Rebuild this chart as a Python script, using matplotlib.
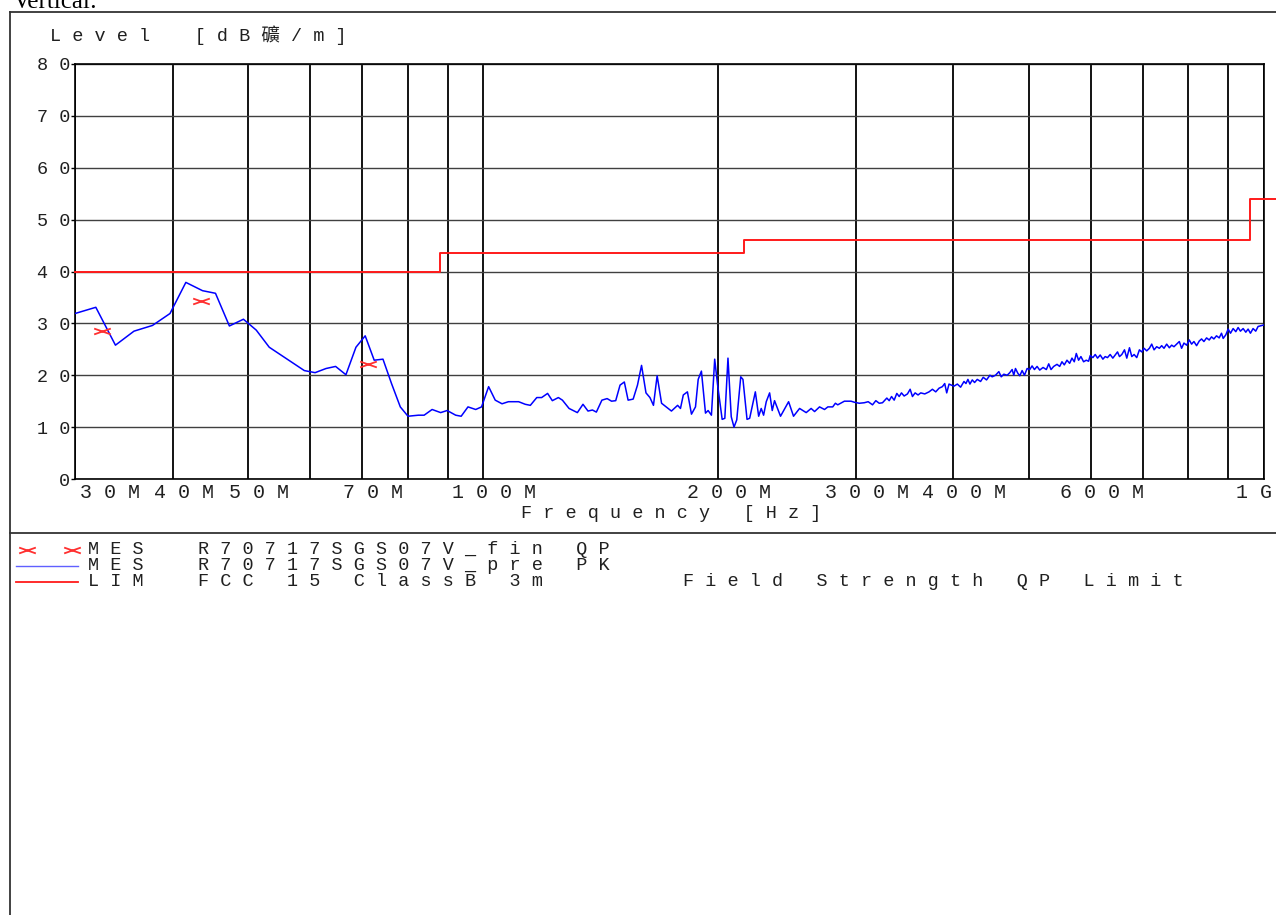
import matplotlib
matplotlib.use('Agg')
import matplotlib.pyplot as plt
from matplotlib.lines import Line2D
from matplotlib.path import Path
from matplotlib.transforms import ScaledTranslation

plt.rcParams['font.family'] = ['Liberation Mono', 'Noto Sans CJK TC']

# Peak pre-scan (MHz, dBuV/m)
pk_freq = [30.0, 31.9, 33.8, 35.7, 37.7, 39.7, 41.6, 43.7, 45.4, 47.3, 49.3, 51.2, 53.2,
           59.0, 60.9, 62.9, 64.7, 66.7, 68.7, 70.6, 72.5, 74.4, 76.3, 78.3, 80.1, 82.6,
           84.0, 86.0, 88.2, 89.9, 92.2, 93.7, 95.6, 97.8, 99.5, 101.6, 103.6, 105.7, 107.7,
           111.0, 113.2, 114.9, 117.1, 118.8, 120.9, 122.6, 124.8, 126.3, 128.8, 132.0,
           134.2, 136.2, 138.0, 139.6, 141.9, 144.1, 146.0, 147.8, 149.7, 151.6, 153.3,
           155.6, 157.6, 159.5, 161.6, 163.5, 165.2, 167.0, 169.2, 174.2, 177.4,
           178.9, 180.4, 182.6, 184.8, 187.0, 188.5, 190.3, 192.6, 194.1, 196.0, 197.9,
           199.5, 202.3, 203.9, 205.8, 207.8, 209.5, 211.2, 213.7, 215.1, 217.7, 219.4,
           223.1, 225.3, 227.0, 228.6, 230.4, 232.7, 234.5, 236.1, 240.3, 246.1, 249.7,
           254.2, 259.2, 263.0, 265.7, 269.6, 273.6, 276.3, 280.3, 282.5, 284.5, 290.1,
           295.8, 298.7, 303.1, 307.6, 311.2, 315.2, 318.3, 321.5, 324.6, 328.8, 331.1,
           333.4, 336.0, 338.6, 341.0, 343.3, 346.0, 349.4, 352.2, 354.6, 357.4, 360.5,
           363.4, 367.7, 372.4, 376.1, 379.8, 383.5, 387.3, 390.0, 392.3, 395.0, 397.7,
           400.8, 404.8, 408.7, 412.8, 415.2, 417.6, 420.1, 423.0, 425.9, 429.3, 433.5,
           436.9, 441.2, 445.6, 448.6, 453.0, 457.5, 460.7, 464.3, 468.9, 472.5, 475.8,
           478.1, 480.5, 483.8, 486.6, 490.0, 493.4, 497.3, 501.2, 504.6, 508.1, 512.1,
           516.1, 521.2, 526.3, 530.0, 533.6, 537.8,
           543.1, 547.4, 551.1, 554.9, 559.3, 563.7, 567.6, 571.5, 574.9, 578.8, 582.8,
           587.4, 592.0, 596.1, 599.0, 603.7, 607.9, 612.1, 616.9, 621.8, 626.0, 630.3,
           635.3, 640.3, 644.7, 649.2, 653.0, 657.5, 662.7, 667.2, 672.5, 677.1, 681.8,
           687.1, 692.5, 697.3, 702.1, 707.6, 713.2, 718.1, 723.1, 728.7, 734.5, 739.5,
           744.6, 750.5, 756.4, 761.6, 766.8, 772.9, 779.0, 784.3, 789.7, 796.0, 802.2,
           807.7, 813.3, 819.7, 826.2, 831.8, 837.6, 844.2, 850.8, 856.7, 862.6, 869.3,
           876.2, 882.2, 886.6, 893.5, 899.7, 905.9, 913.0, 920.2, 926.5, 932.9, 940.3,
           947.7, 954.2, 960.8, 968.3, 975.9, 982.7, 1000.0]
pk_level = [31.9, 33.1, 25.8, 28.5, 29.6, 31.9, 37.9, 36.3, 35.8, 29.5, 30.8, 28.7, 25.4,
            20.9, 20.5, 21.3, 21.7, 20.1, 25.4, 27.6, 22.9, 23.1, 18.4, 13.9, 12.1, 12.3,
            12.3, 13.4, 12.8, 13.2, 12.3, 12.1, 13.9, 13.4, 13.9, 17.8, 15.2, 14.5, 14.9,
            14.9, 14.4, 14.2, 15.7, 15.7, 16.5, 15.1, 15.7, 15.2, 13.6, 12.8,
            14.4, 13.1, 13.3, 12.9, 15.2, 15.5, 15.0, 15.1, 18.1, 18.7, 15.2,
            15.4, 18.1, 21.9, 16.6, 15.7, 14.2, 19.9, 14.6, 13.1, 14.2,
            13.6, 16.2, 16.8, 12.5, 13.9, 19.2, 20.8, 12.7, 13.2, 12.3, 23.1,
            18.4, 11.5, 11.7, 23.3, 12.0, 10.0, 11.4, 19.7, 19.2, 11.5, 11.7,
            16.8, 12.1, 13.6, 12.3, 14.9, 16.6, 13.2, 15.1, 12.1, 14.9, 12.1,
            13.6, 12.8, 13.6, 13.0, 13.9, 13.4, 13.9, 13.9, 14.6, 14.3, 15.0,
            15.0, 14.8, 14.6, 14.7, 14.9, 14.3, 15.1, 14.6, 14.7, 15.6, 15.1,
            15.9, 15.2, 16.5, 15.9, 16.6, 16.0, 16.4, 17.3, 15.9, 16.6, 16.2,
            16.6, 16.4, 16.8, 17.3, 16.8, 17.5, 17.8, 18.4, 16.6, 18.3, 18.1,
            17.9, 18.3, 17.7, 18.8, 18.4, 19.2, 18.3, 19.1, 18.6, 19.2, 18.8,
            19.6, 19.1, 20.0, 19.7, 20.0, 20.7, 19.7, 20.2, 20.0, 20.5, 21.1,
            20.0, 21.3, 20.4, 19.9, 20.9, 20.0, 21.3, 21.1, 21.8, 21.1, 21.7,
            21.0, 21.5, 21.1, 22.2, 21.1, 21.7,
            22.1, 21.7, 22.6, 22.0, 22.9, 22.3, 23.3, 22.6, 24.2, 22.9, 23.6,
            22.6, 22.9, 22.7, 23.8, 23.4, 24.0, 23.3, 23.9, 23.1, 23.6, 23.4,
            24.0, 23.3, 23.9, 24.5, 23.6, 24.0, 24.9, 23.3, 25.3, 23.6, 24.0,
            23.4, 24.9, 24.5, 25.2, 24.7, 25.2, 26.0, 24.9, 25.5, 25.2, 25.7,
            25.2, 26.0, 25.3, 25.8, 25.5, 26.0, 26.5, 25.2, 26.2, 25.8, 26.8,
            26.0, 26.5, 25.7, 26.6, 27.0, 26.5, 27.2, 26.8, 27.4, 27.0, 27.6,
            27.2, 28.1, 27.1, 27.8, 28.9, 28.1, 29.0, 28.4, 29.2, 28.5, 29.0,
            28.3, 28.9, 28.1, 29.0, 28.5, 29.4, 29.7]

# Final QP measurements
qp_freq = [32.5, 43.5, 71.1]
qp_level = [28.6, 34.4, 22.1]

# FCC 15 Class B 3 m limit
lim_freq = [30, 88, 216, 960, 1040]
lim_level = [40, 43.5, 46, 54, 54]

xticks = [30, 40, 50, 60, 70, 80, 90, 100, 200, 300, 400, 500, 600, 700, 800, 900, 1000]
xlabels = {30: '30M', 40: '40M', 50: '50M', 70: '70M', 100: '100M', 200: '200M',
           300: '300M', 400: '400M', 600: '600M', 1000: '1G'}
label_shift = {30: 35, 1000: -10}


def spaced(s):
    return ' '.join(s)


W, H = 1276, 915
txt = '#202020'
fig = plt.figure(figsize=(W / 100, H / 100), dpi=100)
ax = fig.add_axes([75 / W, 1 - 479 / H, (1264 - 75) / W, (479 - 64) / H])

xmark = Path([(-1, -0.35), (1, 0.35), (-1, 0.35), (1, -0.35)],
             [Path.MOVETO, Path.LINETO, Path.MOVETO, Path.LINETO])

ax.plot(pk_freq, pk_level, color='#0000ff', lw=1.1, zorder=3)
ax.step(lim_freq, lim_level, where='post', color='#ff1a1a', lw=1.4, zorder=3, clip_on=False)
ax.plot(qp_freq, qp_level, ls='none', marker=xmark, ms=12, mec='#ff3030', mew=1.3, zorder=4)

ax.set_xscale('log')
ax.set_xlim(30, 1000)
ax.set_ylim(0, 80)
ax.set_xticks(xticks)
ax.set_xticklabels([])
ax.xaxis.set_minor_locator(matplotlib.ticker.NullLocator())
ax.set_yticks(range(0, 81, 10))
ax.set_yticklabels([spaced(str(v)) for v in range(0, 81, 10)], fontsize=13.3, color=txt)
ax.tick_params(axis='x', length=0)
ax.tick_params(axis='y', length=3, width=1, pad=0.5, color='black')
ax.grid(axis='x', color='black', lw=1.3)
ax.grid(axis='y', color='#404040', lw=1.0)
for sp in ax.spines.values():
    sp.set_color('black')
    sp.set_linewidth(1.2)

lab_tr = ax.get_xaxis_transform()
for f, s in xlabels.items():
    dx = label_shift.get(f, 11)
    ax.text(f, -13 / 415, spaced(s), ha='center', va='center', fontsize=14.4, color=txt,
            transform=lab_tr + ScaledTranslation(dx / 100, 0, fig.dpi_scale_trans))

fig.text(671 / W, 1 - 513 / H, spaced('Frequency [Hz]'), ha='center', va='center',
         fontsize=13.3, color=txt)
fig.text(50 / W, 1 - 35 / H, spaced('Level') + '    ' + spaced('[dB礦/m]'),
         ha='left', va='center', fontsize=13.3, color=txt)
fig.text(13 / W, 1 - 8 / H, 'Vertical:', family='Liberation Serif', fontsize=18,
         va='baseline', ha='left', color='black')

# frame
fig.add_artist(Line2D([10 / W, 10 / W], [0, 1 - 12 / H], color='#333333', lw=1.3))
fig.add_artist(Line2D([10 / W, 1], [1 - 12 / H, 1 - 12 / H], color='#333333', lw=1.3))
fig.add_artist(Line2D([10 / W, 1], [1 - 533 / H, 1 - 533 / H], color='#333333', lw=1.3))

# legend block
rows = [550, 566, 582]
fig.add_artist(Line2D([27 / W, 72 / W], [1 - rows[0] / H] * 2, ls='none', marker=xmark,
                      ms=12, mec='#ff3030', mew=1.3))
fig.add_artist(Line2D([16 / W, 78 / W], [1 - rows[1] / H] * 2, color='#6060ff', lw=1.0))
fig.add_artist(Line2D([16 / W, 78 / W], [1 - rows[2] / H] * 2, color='#ff1a1a', lw=1.3))
legend_rows = [('MES', 'R70717SGS07V_fin QP', ''),
               ('MES', 'R70717SGS07V_pre PK', ''),
               ('LIM', 'FCC 15 ClassB 3m', 'Field Strength QP Limit')]
for y, (a, b, c) in zip(rows, legend_rows):
    for x, s in zip((88, 198, 683), (a, b, c)):
        if s:
            fig.text(x / W, 1 - y / H, spaced(s), ha='left', va='center',
                     fontsize=13.3, color=txt)

fig.savefig('out.png', dpi=100)
